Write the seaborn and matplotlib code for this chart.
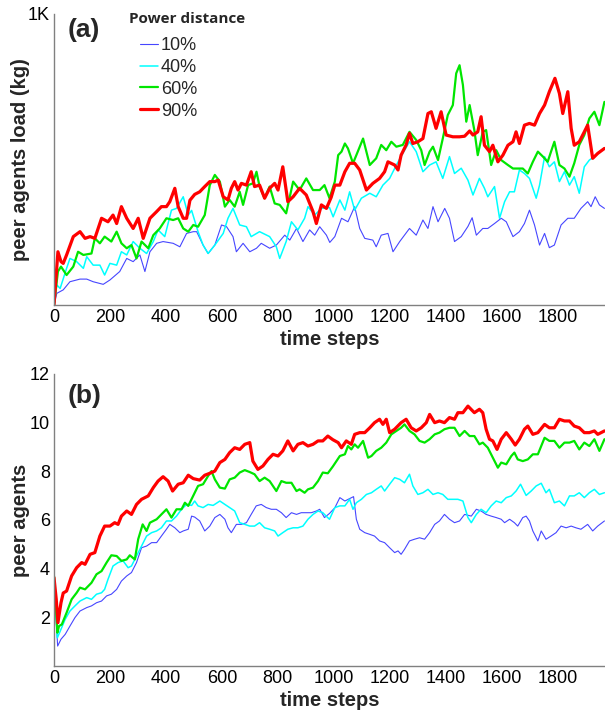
import numpy as np
import pandas as pd
import seaborn as sns
import matplotlib.pyplot as plt
from matplotlib.lines import Line2D

# ---- panel (a): peer agents load (kg) ----
a_steps_10 = [0, 10, 33, 57, 93, 117, 140, 176, 200, 235, 260, 283, 307, 325, 343, 367, 390, 426, 450, 474, 498,
              510, 533, 551, 575, 599, 617, 640, 652, 676, 700, 724, 741, 771, 795, 825, 843, 867, 890, 914, 932,
              950, 974, 986, 1004, 1028, 1051, 1075, 1093, 1111, 1140, 1152, 1170, 1194, 1212, 1236, 1271, 1295,
              1319, 1337, 1355, 1373, 1397, 1414, 1432, 1456, 1480, 1495, 1510, 1533, 1551, 1575, 1599, 1617, 1641,
              1664, 1682, 1700, 1718, 1736, 1754, 1771, 1789, 1813, 1837, 1860, 1884, 1908, 1920, 1935, 1950, 1968]
a_load_10 = [0, 40, 52, 80, 89, 89, 80, 71, 86, 115, 160, 149, 172, 115, 183, 212, 218, 212, 200, 246, 252,
             252, 206, 177, 206, 275, 269, 235, 183, 212, 183, 195, 212, 195, 206, 240, 223, 263, 218, 258, 240,
             269, 240, 215, 235, 298, 286, 338, 263, 229, 223, 200, 240, 246, 183, 218, 263, 240,
             292, 263, 338, 286, 332, 298, 218, 235, 270, 300, 240, 263, 263, 280, 298, 286, 235,
             252, 280, 326, 275, 206, 246, 197, 206, 275, 298, 298, 332, 355, 338, 372, 344, 332]

a_steps_40 = [0, 10, 22, 45, 57, 81, 105, 117, 140, 164, 181, 200, 224, 241, 260, 283, 307, 331, 355, 372, 396,
              420, 438, 462, 480, 492, 515, 533, 551, 575, 605, 622, 640, 664, 688, 705, 735, 771, 795, 807, 830,
              849, 872, 896, 908, 932, 956, 985, 998, 1022, 1040, 1057, 1075, 1099, 1129, 1152, 1176, 1200, 1224,
              1247, 1271, 1295, 1319, 1343, 1366, 1390, 1414, 1432, 1456, 1480, 1498, 1521, 1539, 1551, 1575,
              1593, 1611, 1629, 1646, 1664, 1682, 1700, 1724, 1736, 1754, 1771, 1789, 1807, 1825, 1843, 1860,
              1878, 1896, 1914, 1932, 1950, 1968]
a_load_40 = [0, 69, 57, 126, 160, 149, 126, 166, 137, 137, 103, 143, 137, 183, 172, 218, 195, 177, 218, 258, 235,
             326, 332, 372, 309, 325, 252, 206, 177, 206, 246, 298, 332, 275, 269, 235, 252, 235, 200, 160, 218,
             286, 258, 298, 338, 309, 332, 335, 303, 361, 326, 389, 326, 367, 384, 372, 412, 435, 481,
             521, 561, 527, 458, 481, 492, 435, 510, 452, 470, 429, 378, 435, 401, 372, 407,
             298, 355, 389, 389, 464, 452, 435, 367, 412, 510, 475, 492, 424, 458, 412, 441,
             384, 475, 498, 510, 527, 540]

a_steps_60 = [0, 14, 25, 45, 69, 86, 105, 134, 146, 164, 181, 205, 224, 241, 260, 277, 295, 313, 337, 355, 378,
              402, 426, 444, 462, 480, 498, 515, 539, 557, 575, 593, 611, 628, 646, 664, 676, 694, 711, 724, 735,
              753, 771, 789, 807, 830, 855, 878, 902, 926, 950, 967, 985, 1004, 1016, 1028, 1040, 1051, 1069, 1081,
              1105, 1129, 1152, 1170, 1188, 1206, 1224, 1247, 1271, 1295, 1313, 1325, 1343, 1355, 1373, 1390,
              1408, 1426, 1438, 1450, 1462, 1474, 1486, 1503, 1515, 1533, 1545, 1563, 1581, 1599, 1623, 1641,
              1658, 1676, 1694, 1712, 1730, 1748, 1765, 1777, 1789, 1807, 1825, 1843, 1860, 1878, 1896, 1914,
              1932, 1950, 1968]
a_load_60 = [0, 115, 132, 103, 132, 183, 172, 177, 229, 212, 235, 218, 252, 212, 195, 206, 160, 218, 195, 240, 263,
             298, 292, 298, 263, 252, 275, 269, 309, 412, 447, 424, 338, 361, 338, 389, 344, 412, 418, 458, 407,
             367, 407, 349, 344, 315, 424, 395, 435, 395, 395, 412, 367, 424, 515, 527, 555, 538, 487, 515,
             572, 481, 504, 550, 532, 561, 544, 550, 595, 567, 532, 481, 527, 544, 498, 572,
             653, 687, 796, 824, 756, 630, 687, 600, 515, 595, 601, 481, 532, 498, 481, 469,
             469, 469, 452, 492, 527, 510, 492, 527, 561, 481, 469, 441, 487, 550, 584, 641,
             664, 618, 698]

a_steps_90 = [0, 14, 25, 33, 45, 69, 93, 111, 129, 146, 170, 193, 211, 224, 241, 260, 283, 301, 319, 343, 367,
              384, 402, 414, 432, 444, 462, 474, 486, 503, 521, 539, 557, 575, 587, 605, 622, 634, 646, 658, 670,
              688, 705, 717, 735, 753, 771, 789, 801, 818, 836, 855, 878, 902, 926, 938, 956, 974, 991, 1004,
              1022, 1040, 1057, 1075, 1093, 1117, 1140, 1164, 1182, 1194, 1218, 1230, 1241, 1259, 1271, 1283,
              1301, 1319, 1337, 1349, 1366, 1384, 1402, 1426, 1450, 1468, 1486, 1498, 1515, 1527, 1539, 1557,
              1569, 1587, 1605, 1623, 1641, 1652, 1664, 1682, 1700, 1718, 1736, 1754, 1771, 1791, 1807, 1819,
              1837, 1849, 1860, 1878, 1896, 1908, 1926, 1944, 1968]
a_load_90 = [0, 183, 149, 143, 172, 235, 252, 229, 235, 229, 298, 286, 309, 280, 338, 298, 263, 298, 229, 298, 321,
             338, 338, 355, 401, 338, 298, 298, 360, 380, 389, 407, 424, 424, 429, 372, 361, 401, 424, 395, 418,
             412, 458, 407, 412, 367, 401, 418, 395, 475, 355, 372, 401, 378, 321, 280, 344, 332, 370, 412,
             412, 458, 487, 487, 464, 395, 418, 435, 458, 492, 481, 464, 515, 550, 590, 555,
             561, 572, 658, 664, 607, 664, 584, 578, 578, 580, 598, 584, 595, 647, 549, 527,
             549, 492, 515, 549, 561, 595, 555, 618, 624, 618, 658, 687, 733, 779, 727, 658,
             733, 607, 549, 561, 595, 618, 504, 521, 538]

# ---- panel (b): peer agents ----
b_steps_10 = [0, 13, 25, 40, 57, 75, 93, 117, 134, 152, 170, 188, 205, 224, 241, 260, 277, 295, 313, 331, 349,
              367, 384, 402, 414, 432, 450, 462, 480, 492, 503, 521, 539, 557, 575, 593, 611, 622, 634, 652, 670,
              688, 705, 723, 741, 759, 777, 795, 813, 830, 849, 867, 884, 902, 920, 938, 950, 967, 985, 1004,
              1022, 1040, 1057, 1071, 1081, 1093, 1111, 1129, 1146, 1164, 1182, 1200, 1218, 1230, 1241, 1253,
              1271, 1289, 1307, 1325, 1343, 1361, 1378, 1396, 1414, 1432, 1450, 1468, 1492, 1510, 1527, 1545,
              1563, 1581, 1599, 1611, 1629, 1646, 1658, 1676, 1688, 1700, 1712, 1730, 1742, 1759, 1777, 1795,
              1813, 1831, 1849, 1866, 1884, 1908, 1926, 1944, 1968]
b_peers_10 = [3.56, 0.82, 1.1, 1.3, 1.64, 1.99, 2.26, 2.4, 2.47, 2.6, 2.67, 2.88, 2.95, 3.15, 3.49, 3.7, 3.84, 4.25,
              4.86, 4.93, 5.07, 5.07, 5.34, 5.62, 5.82, 5.68, 5.48, 5.55, 5.62, 6.16, 6.12, 5.96, 5.55, 5.75, 6.1,
              6.23, 6.03, 5.68, 5.48, 5.82, 5.82, 5.89, 6.23, 6.58, 6.64, 6.51, 6.44, 6.44, 6.3, 6.1, 6.3, 6.23,
              6.3, 6.3, 6.3, 6.37, 6.44, 6.1, 6.27, 6.5, 6.92, 6.78, 6.88, 6.96, 6.03, 5.62, 5.48, 5.41, 5.34,
              5.14, 5.07, 4.86, 4.66, 4.73, 4.59, 4.79, 5.14, 5.21, 5.27, 5.21, 5.48, 5.82, 5.96, 6.23, 6.03,
              5.89, 5.96, 6.23, 6.16, 6.44, 6.37, 6.23, 6.16, 6.1, 6.03, 5.89, 6.03, 5.89, 5.75, 6.1, 6.16, 5.96,
              5.55, 5.14, 5.55, 5.21, 5.34, 5.48, 5.75, 5.68, 5.75, 5.68, 5.62, 5.82, 5.55, 5.75, 5.96]

b_steps_40 = [0, 12, 25, 40, 57, 75, 93, 117, 134, 152, 170, 181, 193, 211, 229, 247, 265, 277, 295, 313, 331,
              349, 367, 384, 402, 420, 438, 456, 474, 492, 503, 515, 533, 551, 569, 593, 611, 628, 646, 664, 682,
              700, 717, 735, 753, 771, 789, 801, 818, 836, 855, 872, 890, 908, 926, 944, 961, 973, 985, 1004, 1022,
              1040, 1057, 1069, 1081, 1099, 1117, 1135, 1152, 1170, 1182, 1200, 1218, 1236, 1253, 1271, 1283,
              1301, 1319, 1337, 1355, 1373, 1390, 1408, 1426, 1444, 1462, 1480, 1492, 1510, 1527, 1545, 1563,
              1581, 1599, 1617, 1635, 1652, 1668, 1688, 1706, 1724, 1742, 1759, 1771, 1789, 1807, 1825, 1843,
              1860, 1878, 1896, 1914, 1932, 1950, 1968]
b_peers_40 = [3.7, 1.16, 1.51, 1.92, 2.26, 2.47, 2.67, 2.81, 2.74, 2.95, 3.01, 3.15, 3.56, 4.11, 4.25, 4.32, 4.04,
              4.11, 4.52, 4.93, 5.34, 5.48, 5.55, 5.68, 5.96, 5.96, 6.16, 6.44, 6.64, 6.6, 6.78, 6.58, 6.51, 6.64,
              6.6, 6.78, 6.64, 6.51, 6.37, 5.89, 5.82, 5.75, 5.75, 5.89, 5.68, 5.62, 5.55, 5.34, 5.48, 5.62, 5.68,
              5.68, 5.75, 6.03, 6.23, 6.37, 6.3, 6.16, 6.03, 6.51, 6.58, 6.58, 6.85, 6.44, 6.71, 6.85, 7.05, 7.12,
              7.26, 7.4, 7.19, 7.47, 7.74, 7.67, 7.53, 7.88, 7.4, 7.05, 7.12, 7.26, 7.05, 7.12, 7.05, 6.85,
              6.85, 6.85, 6.78, 6.1, 5.89, 6.23, 6.44, 6.3, 6.58, 6.78, 6.71, 6.92, 6.99, 7.19, 7.47, 7.01,
              7.19, 7.4, 7.51, 7.12, 7.26, 6.71, 6.78, 6.58, 6.99, 6.99, 7.12, 6.92, 7.12, 7.26, 7.05, 7.12]

b_steps_60 = [0, 12, 18, 28, 45, 63, 81, 93, 111, 134, 152, 170, 188, 205, 224, 241, 260, 271, 289, 301, 317,
              331, 343, 367, 384, 402, 420, 438, 456, 468, 480, 498, 515, 533, 551, 563, 575, 593, 611, 628, 646,
              664, 682, 700, 717, 735, 753, 771, 795, 813, 830, 849, 867, 878, 896, 908, 926, 944, 961, 979, 997,
              1022, 1040, 1051, 1063, 1075, 1087, 1105, 1123, 1135, 1152, 1170, 1188, 1206, 1224, 1241, 1253,
              1271, 1289, 1307, 1325, 1343, 1361, 1378, 1396, 1414, 1432, 1450, 1468, 1486, 1503, 1521, 1533,
              1551, 1569, 1587, 1599, 1617, 1635, 1646, 1658, 1676, 1694, 1712, 1730, 1754, 1771, 1789, 1807,
              1825, 1843, 1860, 1878, 1896, 1914, 1932, 1950, 1968]
b_peers_60 = [3.7, 1.37, 1.64, 1.71, 2.19, 2.74, 3.01, 3.22, 3.15, 3.42, 3.77, 3.9, 4.25, 4.55, 4.52, 4.32, 4.38,
              4.55, 4.38, 5.21, 5.82, 5.55, 5.89, 6.03, 6.23, 6.44, 6.1, 6.44, 6.44, 6.71, 6.58, 7.0, 7.4, 7.47,
              7.81, 8.01, 7.67, 7.33, 7.29, 7.67, 7.74, 7.95, 8.05, 7.97, 7.88, 7.6, 7.74, 7.6, 7.19, 7.6, 7.53,
              7.53, 7.19, 7.26, 7.12, 7.26, 7.33, 7.6, 7.95, 7.92, 8.2, 8.63, 8.7, 9.04, 8.9, 9.11, 8.97, 9.25,
              8.56, 8.63, 8.84, 8.97, 9.18, 9.52, 9.66, 9.79, 9.93, 9.66, 9.52, 9.25, 9.18, 9.32, 9.52, 9.59,
              9.73, 9.79, 9.79, 9.45, 9.66, 9.45, 9.45, 9.11, 9.18, 8.97, 8.56, 8.15, 8.36, 8.29, 8.63, 8.77,
              8.49, 8.42, 8.49, 8.7, 8.7, 9.38, 9.25, 9.25, 8.97, 9.18, 9.18, 9.25, 8.9, 9.18, 9.04, 9.32, 8.84,
              9.32]

b_steps_90 = [0, 8, 14, 25, 33, 45, 63, 81, 99, 111, 129, 146, 164, 181, 200, 217, 229, 241, 260, 277, 295,
              313, 337, 355, 372, 390, 408, 424, 444, 462, 480, 498, 521, 539, 557, 575, 593, 611, 628, 646, 664,
              682, 700, 711, 729, 747, 765, 783, 801, 818, 836, 855, 872, 890, 908, 926, 944, 961, 979, 997, 1016,
              1028, 1045, 1063, 1075, 1093, 1111, 1129, 1146, 1164, 1176, 1188, 1200, 1218, 1241, 1259, 1277,
              1295, 1313, 1331, 1343, 1361, 1378, 1396, 1414, 1432, 1444, 1462, 1480, 1491, 1503, 1521, 1533,
              1545, 1557, 1569, 1584, 1599, 1617, 1635, 1649, 1664, 1682, 1694, 1712, 1730, 1754, 1771, 1789,
              1807, 1825, 1843, 1860, 1878, 1896, 1914, 1932, 1944, 1968]
b_peers_90 = [3.63, 2.74, 1.78, 2.6, 3.0, 3.08, 3.7, 4.04, 4.25, 4.18, 4.59, 4.66, 5.34, 5.75, 5.75, 5.89, 5.82,
              6.16, 6.37, 6.23, 6.64, 6.85, 6.99, 7.33, 7.6, 7.78, 7.6, 7.19, 7.47, 7.53, 7.84, 7.7, 7.64, 7.84,
              7.92, 8.01, 8.36, 8.49, 8.77, 8.97, 8.9, 9.11, 9.18, 8.42, 8.08, 8.22, 8.49, 8.7, 8.63, 8.84, 9.25,
              8.84, 9.11, 9.18, 9.04, 9.11, 9.25, 9.25, 9.45, 9.3, 9.18, 8.97, 9.25, 9.11, 9.52, 9.59, 9.59, 9.79,
              10.0, 10.14, 9.93, 10.14, 9.59, 9.73, 10.0, 10.14, 9.79, 9.66, 9.79, 10.0, 10.34, 10.0, 10.07,
              10.0, 10.21, 10.14, 10.41, 10.41, 10.68, 10.55, 10.41, 10.55, 10.41, 9.73, 9.32, 9.25, 8.9, 9.32,
              9.59, 9.32, 9.08, 9.32, 9.73, 9.86, 9.52, 9.59, 9.93, 9.79, 9.79, 10.14, 10.07, 10.07, 9.86, 9.79,
              9.59, 9.59, 9.66, 9.52, 9.66]

legend_labels = ['10%', '40%', '60%', '90%']
x_ticks = [0, 200, 400, 600, 800, 1000, 1200, 1400, 1600, 1800]

colors = ['#4646ff', '#00ffff', '#00e600', '#ff0000']
widths = [0.8, 1.1, 1.6, 2.3]

sns.set_style('white')
plt.rcParams['font.family'] = ['Liberation Sans', 'DejaVu Sans']

fig = plt.figure(figsize=(6.05, 7.11), dpi=100)
ax1 = fig.add_axes([54 / 605, 406 / 711, 551 / 605, 291 / 711])
ax2 = fig.add_axes([54 / 605, 45 / 711, 551 / 605, 292 / 711])

series_a = [(a_steps_10, a_load_10), (a_steps_40, a_load_40), (a_steps_60, a_load_60), (a_steps_90, a_load_90)]
series_b = [(b_steps_10, b_peers_10), (b_steps_40, b_peers_40), (b_steps_60, b_peers_60), (b_steps_90, b_peers_90)]

for (xs, ys), c, w in zip(series_a, colors, widths):
    sns.lineplot(x=xs, y=ys, ax=ax1, color=c, linewidth=w, estimator=None, sort=False)
for (xs, ys), c, w in zip(series_b, colors, widths):
    sns.lineplot(x=xs, y=ys, ax=ax2, color=c, linewidth=w, estimator=None, sort=False)

for ax in (ax1, ax2):
    ax.set_xlim(0, 1970)
    ax.set_xticks(x_ticks)
    ax.set_xticklabels([str(t) for t in x_ticks])
    for s in ['top', 'right']:
        ax.spines[s].set_visible(False)
    for s in ['left', 'bottom']:
        ax.spines[s].set_color('#808080')
        ax.spines[s].set_linewidth(1.0)
    ax.tick_params(direction='in', length=4, width=1, color='#808080', labelsize=13,
                   labelcolor='black', pad=3)
    ax.set_xlabel('time steps', fontsize=14.5, fontweight='bold', labelpad=3)
    ax.yaxis.set_label_coords(-0.044, 0.5)

ax1.set_ylim(0, 1000)
ax1.set_yticks([1000])
ax1.set_yticklabels(['1K'])
ax1.set_ylabel('peer agents load (kg)', fontsize=14.5, fontweight='bold')

ax2.set_ylim(0, 12)
ax2.set_yticks([2, 4, 6, 8, 10, 12])
ax2.set_yticklabels(['2', '4', '6', '8', '10', '12'])
ax2.set_ylabel('peer agents', fontsize=14.5, fontweight='bold')

ax1.text(0.025, 0.985, '(a)', transform=ax1.transAxes, fontsize=19, fontweight='bold', va='top', ha='left')
ax2.text(0.025, 0.965, '(b)', transform=ax2.transAxes, fontsize=19, fontweight='bold', va='top', ha='left')

# legend for panel (a)
ax1.text((129 - 54) / 551, (305 - 12) / 291, 'Power distance', transform=ax1.transAxes,
         fontsize=11, fontweight='bold', family=['Open Sans', 'DejaVu Sans'], va='top', ha='left')
handles = [Line2D([], [], color=c, linewidth=w) for c, w in zip(colors, widths)]
ax1.legend(handles, legend_labels, loc='upper left', bbox_to_anchor=((140 - 54) / 551, (305 - 37) / 291),
           frameon=False, fontsize=13, handlelength=1.0, handletextpad=0.15, labelspacing=0.27,
           borderpad=0, borderaxespad=0)

fig.savefig('out.png', dpi=100)
